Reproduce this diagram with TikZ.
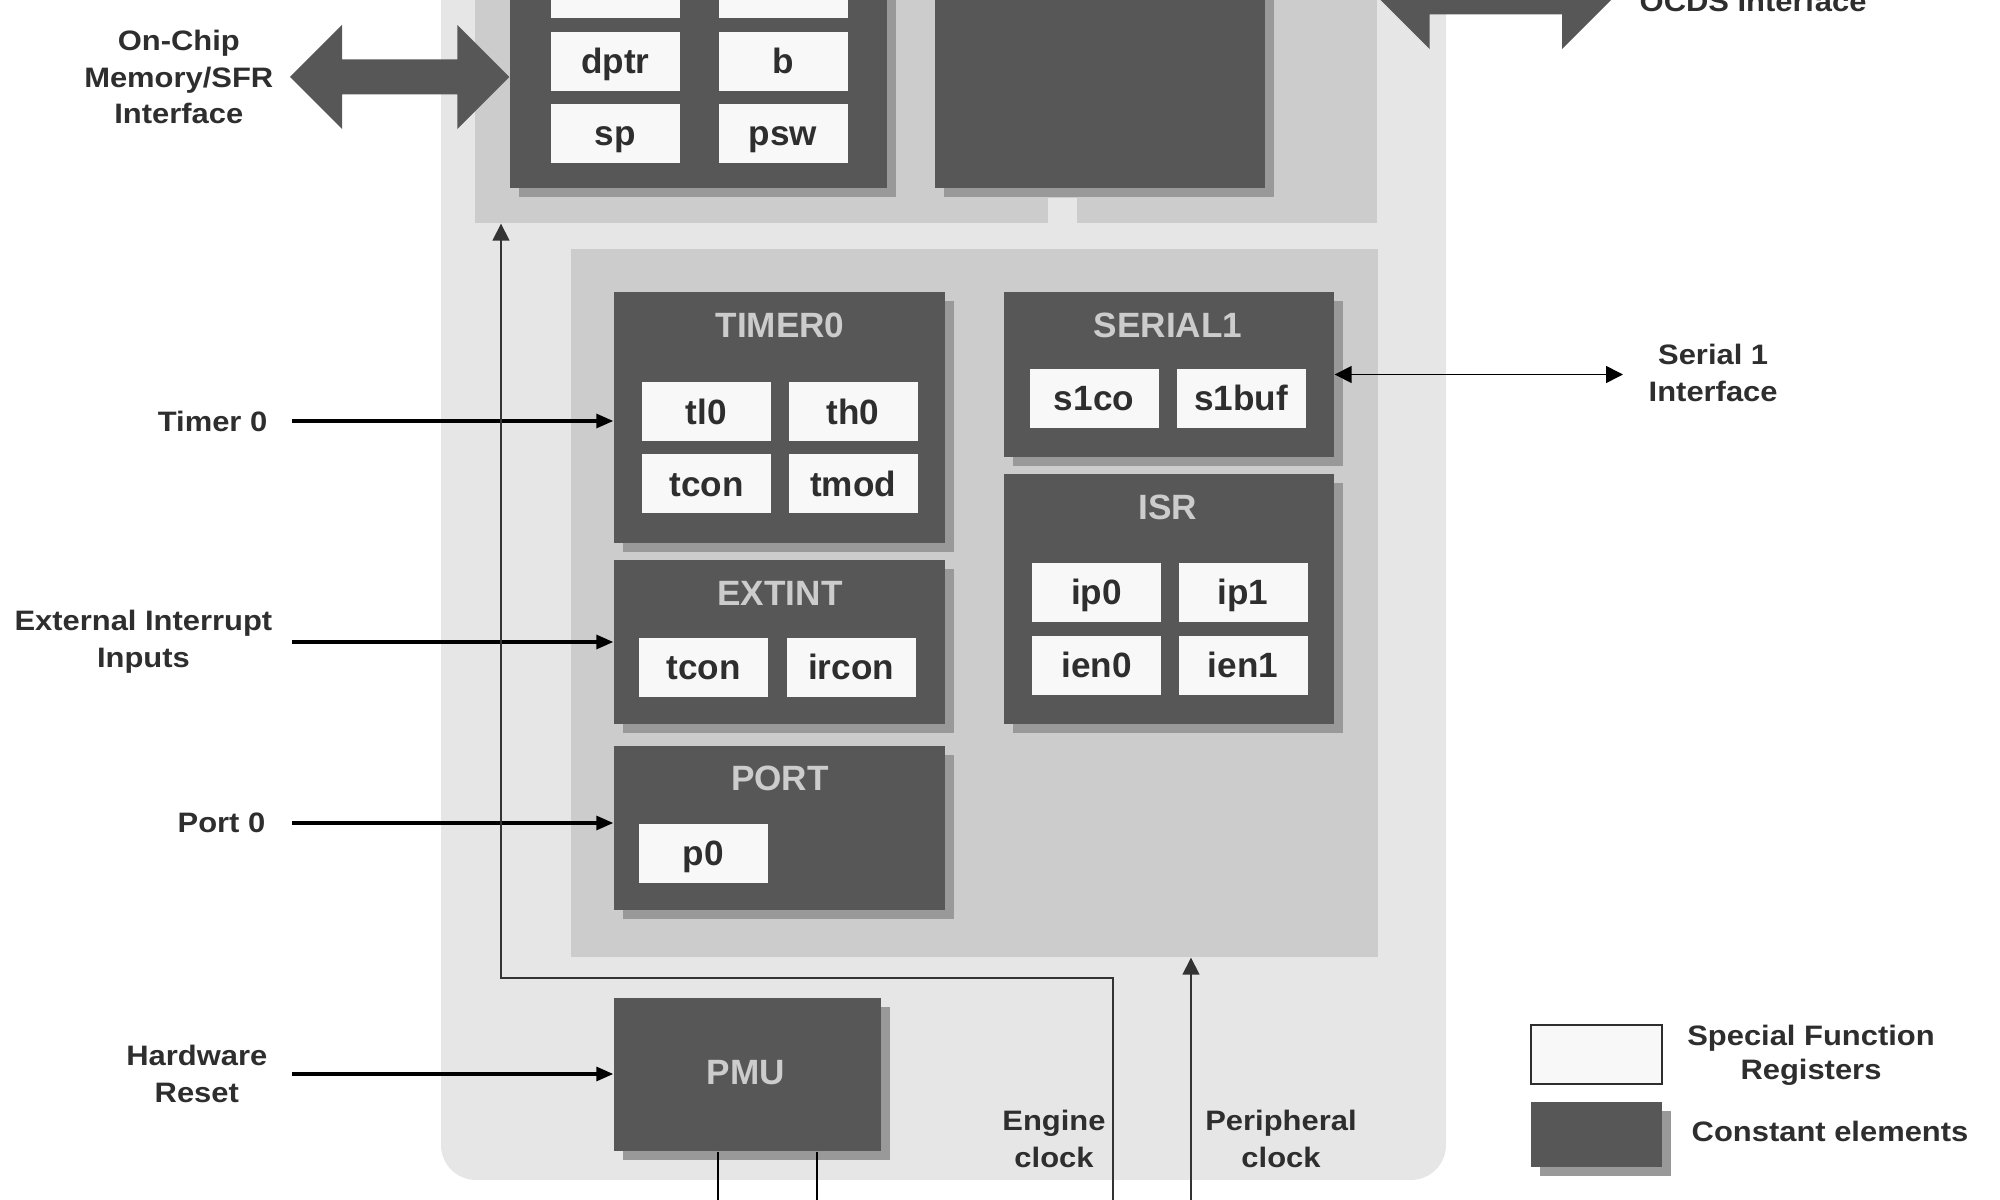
\documentclass[tikz,border=0pt]{standalone}
\usepackage{fontspec}
\setmainfont{Liberation Sans}
\newfontfamily\widefont[FakeStretch=1.1]{Liberation Sans}
\usepackage{tikz}
\usetikzlibrary{arrows.meta,shadows,calc}
\definecolor{pouter}{HTML}{E6E6E6}
\definecolor{pmid}{HTML}{CCCCCC}
\definecolor{pblock}{HTML}{575757}
\definecolor{pshadow}{HTML}{999999}
\definecolor{psfr}{HTML}{F8F8F8}
\definecolor{ptext}{HTML}{2E2E2E}
\definecolor{ptitle}{HTML}{CCCCCC}
\tikzset{
  % Flat grey areas and dark blocks with a solid offset shadow.
  region/.style    = {rectangle, fill=#1, inner sep=0pt},
  region/.default  = pmid,
  unit/.style      = {rectangle, fill=pblock, inner sep=0pt,
                      drop shadow={shadow xshift=0.9mm, shadow yshift=-0.9mm, fill=pshadow, opacity=1}},
  sfr/.style       = {rectangle, fill=psfr, inner sep=0pt, minimum width=12.9mm, minimum height=5.9mm,
                      text height=2.5mm, text depth=0pt, text=ptext,
                      font=\fontsize{10}{12}\selectfont\bfseries},
  ttl/.style       = {text=ptitle, inner sep=0pt, font=\fontsize{10}{12}\selectfont\bfseries},
  lbl/.style       = {text=ptext, align=center, inner sep=0pt,
                      font=\widefont\fontsize{8}{10.5}\selectfont\bfseries},
  inarr/.style     = {-{Triangle[length=1.7mm, width=1.4mm]}, line width=0.9pt, black},
  thin lane/.style = {-{Triangle[length=1.7mm, width=1.7mm]}, line width=0.45pt, black!80},
  both lane/.style = {{Triangle[length=1.7mm, width=1.7mm]}-{Triangle[length=1.7mm, width=1.7mm]},
                      line width=0.45pt, black},
  pmu line/.style  = {line width=0.8pt, black},
}
% wide bus arrow between two tips on one horizontal line
\newcommand{\busarrow}[2]{%
  \fill[pblock] (#1) -- ++(52,-52) -- ++(0,34.5) -- ($(#2)+(-52,-17.5)$) -- ++(0,-34.5)
    -- (#2) -- ++(-52,52) -- ++(0,-34.5) -- ($(#1)+(52,17.5)$) -- ++(0,34.5) -- cycle;}

\begin{document}
\begin{tikzpicture}[x=0.1mm,y=-0.1mm]
\useasboundingbox (0,0) rectangle (2000,1200);
\clip (0,0) rectangle (2000,1200);
% --- grey areas -------------------------------------------------------
\node[region=pouter, rounded corners=3.5mm, minimum width=100.5mm, minimum height=133mm] (chip) at (943.5,515) {};
\node[region, minimum width=90.2mm, minimum height=34.3mm] (coreReg) at (926,51.5) {};
\fill[pouter] (1048,198) rectangle (1077,223);
\node[region, minimum width=80.7mm, minimum height=70.8mm] (perReg) at (974.5,603) {};
% --- core and debug blocks --------------------------------------------
\node[unit, minimum width=37.7mm, minimum height=30.8mm] (core) at (698.5,34) {};
\node[unit, minimum width=33mm, minimum height=30.8mm] (dbg) at (1100,34) {};
\node[sfr] (rowA) at (615.5,-11.5) {};
\node[sfr] (rowB) at (783,-11.5) {};
\foreach \n/\x/\y in {dptr/615.5/61.5, b/783/61.5, sp/615.5/133.5, psw/783/133.5}
  {\node[sfr] (\n) at (\x,\y) {\n};}
% --- peripherals ------------------------------------------------------
\node[unit, minimum width=33.1mm, minimum height=25.1mm] (timer) at (779.5,417.5) {};
\node[ttl] (timerT) at (780,325) {TIMER0};
\foreach \n/\x/\y in {tl0/706.5/412, th0/853/412, tcon/706.5/484, tmod/853/484}
  {\node[sfr] (\n) at (\x,\y) {\n};}
\node[unit, minimum width=33.1mm, minimum height=16.4mm] (extint) at (779.5,642) {};
\node[ttl] (extintT) at (780,593) {EXTINT};
\node[sfr] (tconx) at (703.5,667.5) {tcon};
\node[sfr] (ircon) at (851,667.5) {ircon};
\node[unit, minimum width=33.1mm, minimum height=16.4mm] (port) at (779.5,828) {};
\node[ttl] (portT) at (780,778) {PORT};
\node[sfr] (p0) at (703.5,853.5) {p0};
\node[unit, minimum width=33mm, minimum height=16.5mm] (serial) at (1169,374.5) {};
\node[ttl] (serialT) at (1168,325) {SERIAL1};
\foreach \n/\x/\y in {s1co/1094/398.5, s1buf/1241/398.5}
  {\node[sfr] (\n) at (\x,\y) {\n};}
\node[unit, minimum width=33mm, minimum height=25mm] (isr) at (1169,599) {};
\node[ttl] (isrT) at (1168,507) {ISR};
\foreach \n/\x/\y in {ip0/1096.5/592.5, ip1/1243/592.5, ien0/1096.5/665.5, ien1/1243/665.5}
  {\node[sfr] (\n) at (\x,\y) {\n};}
\node[unit, minimum width=26.7mm, minimum height=15.3mm] (pmu) at (747.5,1074.5) {};
\node[ttl] (pmuT) at (746,1073) {PMU};
% --- outside interfaces -----------------------------------------------
\node[lbl, anchor=east] (memIf) at (274,77) {On-Chip\\Memory/SFR\\Interface};
\busarrow{$(memIf.east)+(16,0)$}{memIf -| core.west}
\node[lbl, anchor=base west] (ocdsIf) at (1639,12) {OCDS Interface};
\coordinate (ocdsR) at (1614,-3);
\coordinate (ocdsL) at (coreReg.east |- ocdsR);
\busarrow{ocdsL}{ocdsR}
\node[lbl, anchor=west] (serIf) at (1648,373) {Serial 1\\Interface};
\coordinate (serEnd) at ($(serial.east -| serIf.west)+(-25,0)$);
\draw[both lane] (serial.east) -- (serEnd);
% --- inputs on the left -----------------------------------------------
\node[lbl, anchor=east] (tmrIn) at (268,421) {Timer 0};
\node[lbl, anchor=east] (extIn) at (273,642) {External Interrupt\\Inputs};
\node[lbl, anchor=east] (portIn) at (266,823) {Port 0};
\node[lbl, anchor=east] (rstIn) at (268,1074) {Hardware\\Reset};
\draw[inarr] ($(tmrIn.east)+(24,0)$) -- (tmrIn -| timer.west);
\draw[inarr] ($(extIn.east)+(19,0)$) -- (extIn -| extint.west);
\draw[inarr] ($(portIn.east)+(26,0)$) -- (portIn -| port.west);
\draw[inarr] ($(rstIn.east)+(24,0)$) -- (rstIn -| pmu.west);
% --- clocks -----------------------------------------------------------
\coordinate (pmuA) at (718,1210);
\coordinate (pmuB) at (817,1210);
\draw[pmu line] (pmuA |- pmu.south) -- (pmuA);
\draw[pmu line] (pmuB |- pmu.south) -- (pmuB);
\coordinate (engSrc) at (1113,1210);
\coordinate (engBend) at (501,978);
\draw[thin lane] (engSrc) |- (engBend) -- (engBend |- coreReg.south);
\coordinate (perSrc) at (1191,1210);
\draw[thin lane] (perSrc) -- (perSrc |- perReg.south);
\node[lbl] (engLbl) at (1054,1139) {Engine\\clock};
\node[lbl] (perLbl) at (1281,1139) {Peripheral\\clock};
% --- key --------------------------------------------------------------
\node[sfr, draw=ptext, line width=0.4pt, minimum width=13.1mm, minimum height=5.9mm] (keySfr) at (1596.5,1054.5) {};
\node[unit, minimum width=13.1mm, minimum height=6.5mm] (keyUnit) at (1596.5,1134.5) {};
\node[lbl, font=\widefont\fontsize{8}{9.7}\selectfont\bfseries] (keySfrT) at (1811,1055) {Special Function\\Registers};
\node[lbl, anchor=west] (keyUnitT) at (1691,1131) {Constant elements};
\end{tikzpicture}
\end{document}
